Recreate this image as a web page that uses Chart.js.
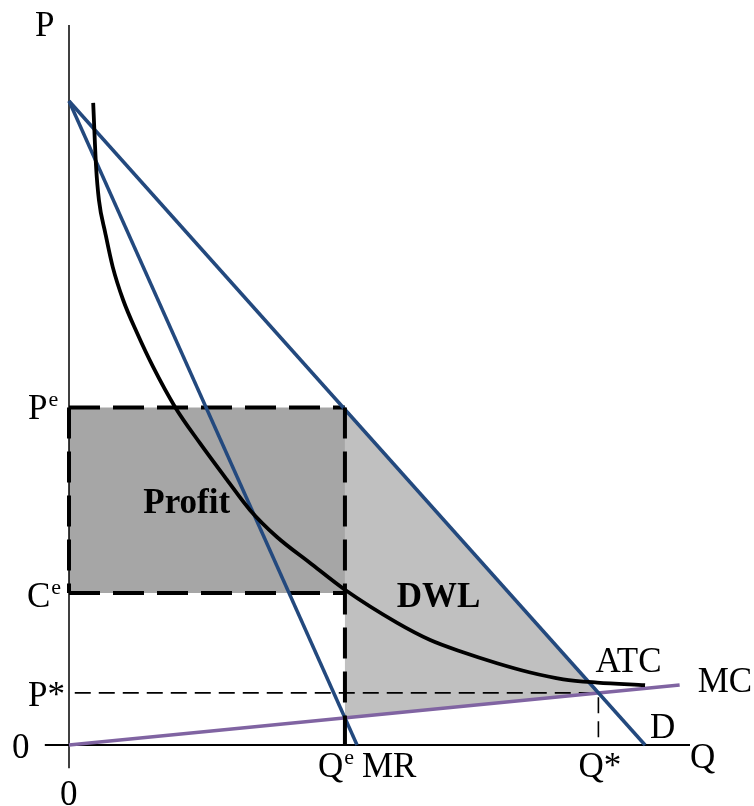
<!DOCTYPE html>
<html>
<head>
<meta charset="utf-8">
<script src="https://cdn.jsdelivr.net/npm/chart.js@4.4.1/dist/chart.umd.min.js"></script>
<style>
  html, body { margin: 0; padding: 0; background: #fff; }
  #wrap { width: 754px; height: 806px; }
</style>
</head>
<body>
<div id="wrap"><canvas id="chart" width="754" height="806"></canvas></div>
<script>
// Key quantities (Q on x, P on y)
const Qe = 4.79;
const Pe = 5.24;
const Ce = 2.36;
const Qstar = 9.19;
const Pstar = 0.81;
const mcAtQe = 0.42;

// Curves
const demandQ = [0, 10];
const demandP = [10, 0];
const mrQ = [0, 5];
const mrP = [10, 0];
const mcQ = [0, 10.6];
const mcP = [0, 0.93];
const atcQ = [0.42, 0.47, 0.52, 0.63, 0.76, 0.94, 1.18, 1.46, 1.84, 2.27, 2.74, 3.14, 3.61, 4.18, 4.79, 5.69, 6.27, 6.84, 7.43, 7.99, 8.58, 9.17, 10.0];
const atcP = [9.97, 8.98, 8.46, 7.95, 7.42, 6.91, 6.40, 5.87, 5.25, 4.69, 4.12, 3.65, 3.23, 2.83, 2.41, 1.90, 1.63, 1.44, 1.27, 1.13, 1.02, 0.97, 0.93];

// Axis extents
const xAxisQ = [-0.42, 10.78];
const yAxisP = [-0.36, 11.18];

const pts = (xs, ys) => xs.map((x, i) => ({ x: x, y: ys[i] }));

const BLUE = '#23497e';
const PURPLE = '#8064a2';

function line(data, color, width, extra) {
  return Object.assign({
    data: data,
    showLine: true,
    borderColor: color,
    borderWidth: width,
    pointRadius: 0,
    fill: false,
    clip: false,
    tension: 0
  }, extra || {});
}

const datasets = [
  // fills
  line(pts([0, Qe, Qe, 0, 0], [Pe, Pe, Ce, Ce, Pe]), 'rgba(0,0,0,0)', 0,
    { fill: 'shape', backgroundColor: '#a6a6a6', order: 20 }),
  line(pts([Qe, Qstar, Qe, Qe], [Pe, Pstar, mcAtQe, Pe]), 'rgba(0,0,0,0)', 0,
    { fill: 'shape', backgroundColor: '#c0c0c0', order: 21 }),

  // axes
  line(pts([0, 0], yAxisP), '#000', 1.5, { order: 10 }),
  line(pts(xAxisQ, [0, 0]), '#000', 2, { order: 10 }),

  // thin dashed P*, Q*
  line(pts([0.1, Qstar, Qstar], [Pstar, Pstar, 0]), '#000', 1.6,
    { borderDash: [16, 8], order: 9 }),

  // thick dashed profit box
  line(pts([0, Qe], [Pe, Pe]), '#000', 4, { borderDash: [31, 13], order: 8 }),
  line(pts([0, Qe], [Ce, Ce]), '#000', 4, { borderDash: [31, 13], order: 8 }),
  line(pts([0, 0], [Pe, Ce]), '#000', 4, { borderDash: [31, 13], order: 8 }),

  // curves
  line(pts(mcQ, mcP), PURPLE, 3.5, { order: 5 }),
  line(pts(mrQ, mrP), BLUE, 3.5, { order: 4 }),
  line(pts(demandQ, demandP), BLUE, 3.5, { order: 3 }),
  line(pts(atcQ, atcP), '#000', 3.8, { tension: 0.4, cubicInterpolationMode: 'monotone', order: 2 }),

  // thick dashed Qe drop line, on top
  line(pts([Qe, Qe], [Pe, 0]), '#000', 4, { borderDash: [31, 13], order: 0 })
];

// Text labels: anchor in data units, pixel offset, main text, superscript
const labels = [
  { q: 0, p: 11.18, dx: -34, dy: 11, text: 'P' },
  { q: 0, p: Pe, dx: -41, dy: 11, text: 'P', sup: 'e' },
  { q: 0, p: Ce, dx: -42, dy: 14, text: 'C', sup: 'e' },
  { q: 0, p: Pstar, dx: -41, dy: 13, text: 'P*' },
  { q: 0, p: 0, dx: -57, dy: 13, text: '0' },
  { q: 0, p: 0, dx: -9, dy: 60, text: '0' },
  { q: Qe, p: 0, dx: -27, dy: 32, text: 'Q', sup: 'e' },
  { q: Qe, p: 0, dx: 17, dy: 32, text: 'MR' },
  { q: Qstar, p: 0, dx: -20, dy: 32, text: 'Q*' },
  { q: 10.78, p: 0, dx: 0, dy: 23, text: 'Q' },
  { q: 10, p: 0, dx: 5, dy: -7, text: 'D' },
  { q: Qstar, p: Pstar, dx: -3, dy: -21, text: 'ATC' },
  { q: 10.6, p: 0.93, dx: 18, dy: 7, text: 'MC' },
  { q: 1.29, p: 3.61, dx: 0, dy: 0, text: 'Profit', bold: true },
  { q: 5.69, p: 2.14, dx: 0, dy: 0, text: 'DWL', bold: true }
];

const textPlugin = {
  id: 'econLabels',
  afterDatasetsDraw(chart) {
    const ctx = chart.ctx;
    const xs = chart.scales.x;
    const ys = chart.scales.y;
    ctx.save();
    ctx.fillStyle = '#000';
    ctx.textBaseline = 'alphabetic';
    ctx.textAlign = 'left';
    labels.forEach(l => {
      const x = xs.getPixelForValue(l.q) + l.dx;
      const y = ys.getPixelForValue(l.p) + l.dy;
      ctx.font = (l.bold ? 'bold ' : '') + '35px "Liberation Serif", "Times New Roman", serif';
      ctx.fillText(l.text, x, y);
      if (l.sup) {
        const w = ctx.measureText(l.text).width;
        ctx.font = '22px "Liberation Serif", "Times New Roman", serif';
        ctx.fillText(l.sup, x + w + 1, y - 13);
      }
    });
    ctx.restore();
  }
};

new Chart(document.getElementById('chart'), {
  type: 'scatter',
  data: { datasets: datasets },
  options: {
    responsive: false,
    animation: false,
    layout: { padding: { left: 69, right: 64, top: 25, bottom: 61 } },
    plugins: {
      legend: { display: false },
      tooltip: { enabled: false },
      // paint every shaded area before any line is stroked
      filler: { drawTime: 'beforeDatasetsDraw' }
    },
    scales: {
      x: { type: 'linear', min: 0, max: 10.78, display: false },
      y: { type: 'linear', min: 0, max: 11.18, display: false }
    }
  },
  plugins: [textPlugin]
});
</script>
</body>
</html>
